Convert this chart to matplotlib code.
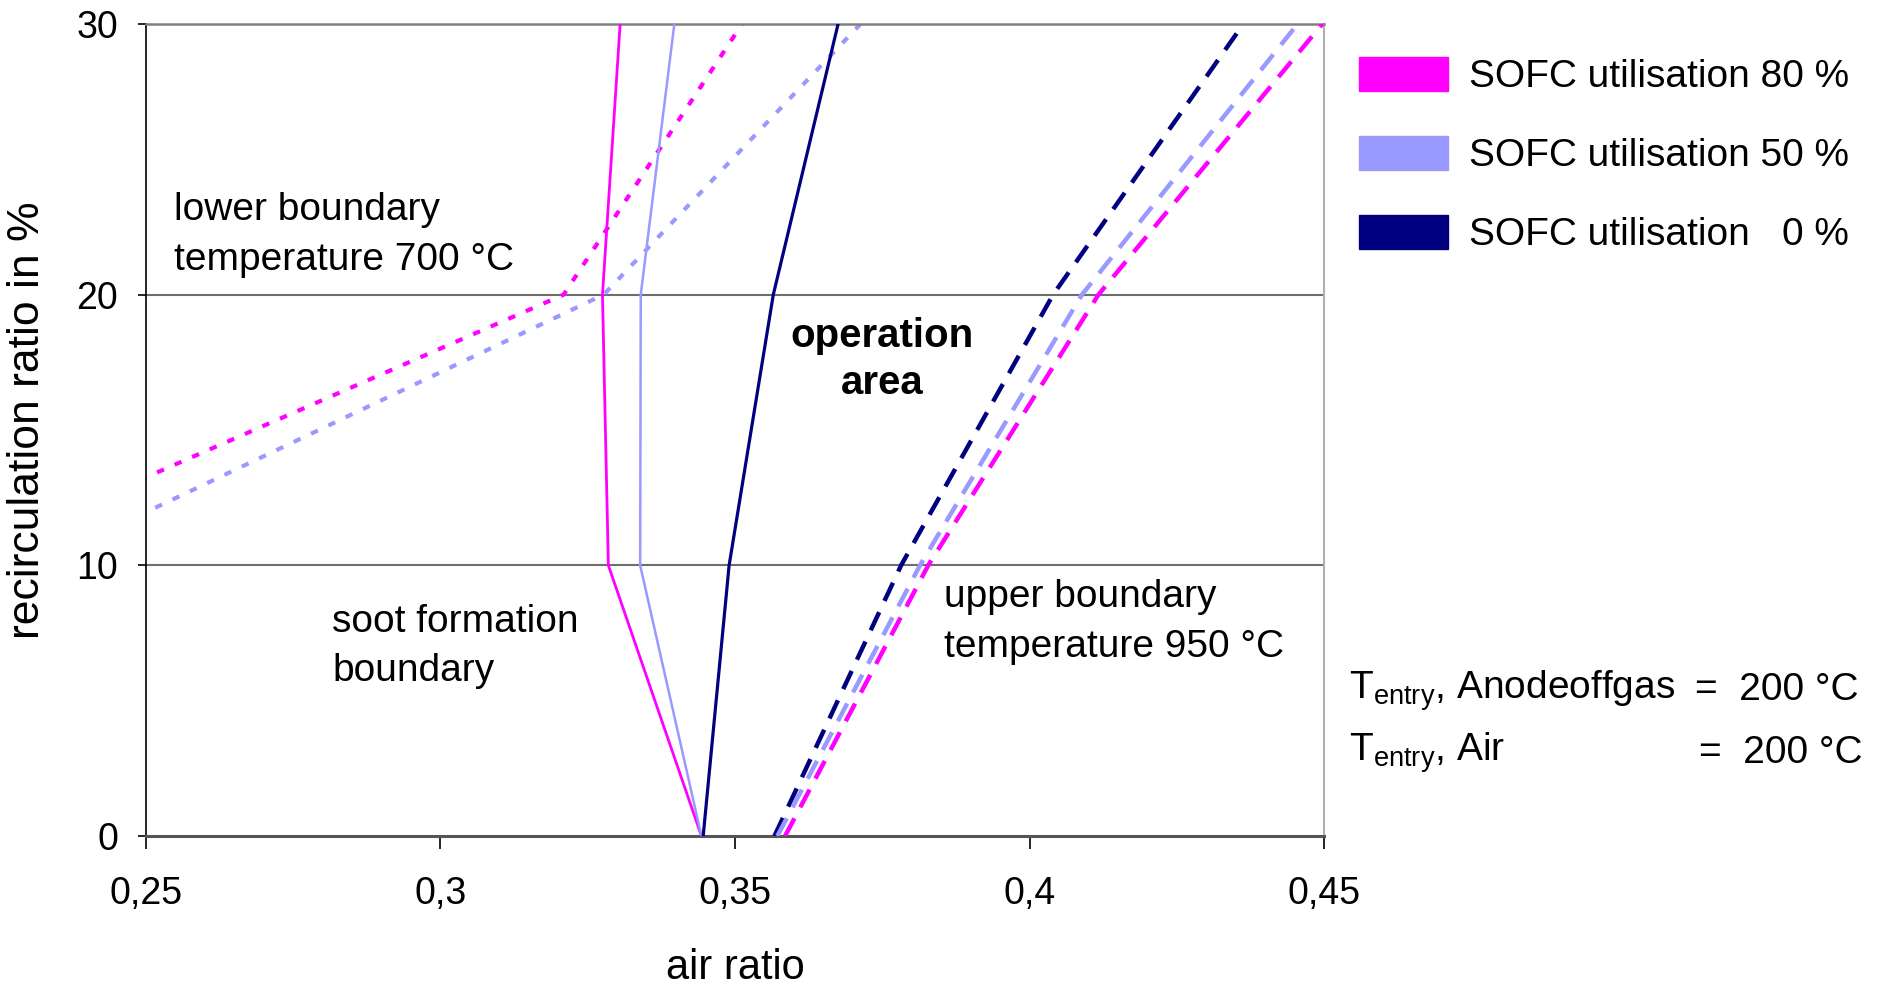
import matplotlib.pyplot as plt
from matplotlib.patches import Patch

plt.rcParams["font.family"] = ["Liberation Sans", "DejaVu Sans"]
plt.rcParams["mathtext.fontset"] = "custom"
plt.rcParams["mathtext.rm"] = "Liberation Sans"
plt.rcParams["mathtext.default"] = "regular"

# recirculation ratio points (%) of each boundary curve
rec_levels = [0, 10, 20, 30]

# soot formation boundary (solid)
soot_80 = [0.3443, 0.3285, 0.3275, 0.3305]
soot_50 = [0.3443, 0.3339, 0.3340, 0.3397]
soot_0 = [0.3446, 0.3490, 0.3565, 0.3675]

# upper boundary 950 C (dashed)
upper_80 = [0.3585, 0.3828, 0.4117, 0.4497]
upper_50 = [0.3572, 0.3814, 0.4089, 0.4455]
upper_0 = [0.3567, 0.3782, 0.4040, 0.4363]

# lower boundary 700 C (dotted), only 80 % and 50 %
lower_rec = [10, 20, 30]
lower_80 = [0.2158, 0.3209, 0.3512]
lower_50 = [0.2310, 0.3277, 0.3713]

labels = ["SOFC utilisation 80 %", "SOFC utilisation 50 %", "SOFC utilisation   0 %"]
colors = ["#ff00ff", "#9999ff", "#000080"]

fig = plt.figure(figsize=(18.81, 9.89), dpi=100)
ax = fig.add_axes([0.0776, 0.1547, 0.6263, 0.821])

for y in [10, 20]:
    ax.axhline(y, color="#6e6e6e", lw=1.5, zorder=1)

ax.plot(lower_80, lower_rec, color=colors[0], lw=3.0, dashes=(1.8, 2.8), zorder=2)
ax.plot(lower_50, lower_rec, color=colors[1], lw=3.0, dashes=(1.8, 2.8), zorder=2)

for xs, c, lw in zip([soot_80, soot_50, soot_0], colors, [2.0, 1.8, 2.3]):
    ax.plot(xs, rec_levels, color=c, lw=lw, zorder=3)

for xs, c in zip([upper_0, upper_50, upper_80], colors[::-1]):
    ax.plot(xs, rec_levels, color=c, lw=3.2, dashes=(4.5, 2.8), zorder=3)

ax.set_xlim(0.25, 0.45)
ax.set_ylim(0, 30)
ax.set_xticks([0.25, 0.3, 0.35, 0.4, 0.45])
ax.set_xticklabels(["0,25", "0,3", "0,35", "0,4", "0,45"])
ax.set_yticks([0, 10, 20, 30])
ax.tick_params(axis="x", labelsize=27, length=9, width=1.2, pad=20)
ax.tick_params(axis="y", labelsize=27, length=6, width=1.2, pad=14)

ax.spines["left"].set_color("black")
ax.spines["left"].set_linewidth(1.2)
ax.spines["bottom"].set_color("#555555")
ax.spines["bottom"].set_linewidth(2.2)
ax.spines["top"].set_color("#808080")
ax.spines["top"].set_linewidth(1.8)
ax.spines["right"].set_color("#b0b0b0")
ax.spines["right"].set_linewidth(1.5)

ax.set_xlabel("air ratio", fontsize=30)
ax.xaxis.set_label_coords(0.5, -0.138)
ax.set_ylabel("recirculation ratio in %", fontsize=32)
ax.yaxis.set_label_coords(-0.083, 0.512)

ax.text(0.2547, 22.2, "lower boundary\ntemperature 700 °C", fontsize=28,
        va="center", ha="left", linespacing=1.5)
ax.text(0.2816, 7.0, "soot formation\nboundary", fontsize=28,
        va="center", ha="left", linespacing=1.45)
ax.text(0.3854, 7.9, "upper boundary\ntemperature 950 °C", fontsize=28,
        va="center", ha="left", linespacing=1.5)
ax.text(0.375, 17.6, "operation\narea", fontsize=29, fontweight="bold",
        va="center", ha="center", linespacing=1.3)

handles = [Patch(facecolor=c, edgecolor=c) for c in colors]
fig.legend(handles, labels, loc="upper left", bbox_to_anchor=(0.714, 0.958),
           frameon=False, fontsize=28, handlelength=2.3, handleheight=0.95,
           handletextpad=0.55, labelspacing=1.05, borderaxespad=0)

fig.text(0.717, 0.302, r"T$_{entry}$, Anodeoffgas", fontsize=28, va="center")
fig.text(0.988, 0.302, "=  200 °C", fontsize=28, va="center", ha="right")
fig.text(0.717, 0.239, r"T$_{entry}$, Air", fontsize=28, va="center")
fig.text(0.990, 0.239, "=  200 °C", fontsize=28, va="center", ha="right")

fig.savefig("out.png", dpi=100)
